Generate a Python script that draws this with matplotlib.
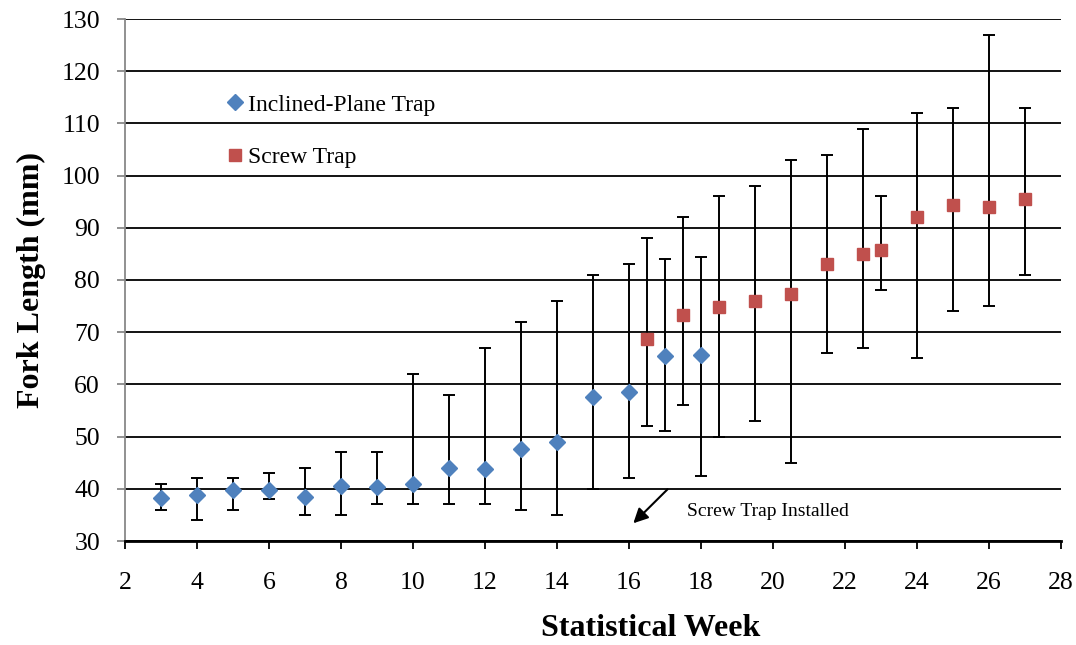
import numpy as np
import matplotlib
matplotlib.use("Agg")
import matplotlib.pyplot as plt
from matplotlib.lines import Line2D

# Fork length by statistical week, with min/max range bars
ipt_week = [3, 4, 5, 6, 7, 8, 9, 10, 11, 12, 13, 14, 15, 16, 17, 18]
ipt_mean = [38.2, 38.8, 39.8, 39.8, 38.5, 40.5, 40.3, 41.0,
            43.9, 43.8, 47.6, 49.0, 57.6, 58.6, 65.5, 65.7]
ipt_min = [36, 34, 36, 38, 35, 35, 37, 37, 37, 37, 36, 35, 40, 42, 51, 42.4]
ipt_max = [41, 42, 42, 43, 44, 47, 47, 62, 58, 67, 72, 76, 81, 83, 84, 84.5]

screw_week = [16.5, 17.5, 18.5, 19.5, 20.5, 21.5, 22.5, 23, 24, 25, 26, 27]
screw_mean = [68.7, 73.2, 74.9, 76.0, 77.3, 83.1, 84.9, 85.8,
              92.1, 94.3, 93.9, 95.6]
screw_min = [52, 56, 50, 53, 45, 66, 67, 78, 65, 74, 75, 81]
screw_max = [88, 92, 96, 98, 103, 104, 109, 96, 112, 113, 127, 113]

blue = "#4F81BD"
red = "#C0504D"

plt.rcParams['font.family'] = "Liberation Serif"

fig = plt.figure(figsize=(10.76, 6.45), dpi=100)
ax = fig.add_axes([125/1076, 1 - 541/645, 936/1076, 522/645])

def yerr(mean, lo, hi):
    mean = np.asarray(mean)
    return [mean - np.asarray(lo), np.asarray(hi) - mean]

ax.errorbar(ipt_week, ipt_mean, yerr=yerr(ipt_mean, ipt_min, ipt_max),
            fmt="D", color=blue, ms=8.5, mec=blue, ecolor="black",
            elinewidth=1.4, capsize=4.3, capthick=1.4, zorder=3)
ax.errorbar(screw_week, screw_mean, yerr=yerr(screw_mean, screw_min, screw_max),
            fmt="s", color=red, ms=9, mec=red, ecolor="black",
            elinewidth=1.4, capsize=4.3, capthick=1.4, zorder=3)

ax.set_xlim(2, 28)
ax.set_ylim(30, 130)
ax.set_xticks(np.arange(2, 29, 2))
ax.set_yticks(np.arange(30, 131, 10))
ax.yaxis.grid(True, color="black", lw=1.3)
ax.set_axisbelow(True)

for s in ["top", "right"]:
    ax.spines[s].set_visible(False)
ax.spines["left"].set_color("#888888")
ax.spines["left"].set_linewidth(1.3)
ax.spines["bottom"].set_linewidth(2.0)

ax.tick_params(axis="x", direction="out", length=6, width=1.3, pad=16,
               labelsize=18.5)
ax.tick_params(axis="y", direction="out", length=6, width=1.3, pad=12,
               color="#888888", labelsize=18.5)

ax.set_xlabel("Statistical Week", fontsize=23, fontweight="bold")
ax.set_ylabel("Fork Length (mm)", fontsize=23, fontweight="bold")
ax.xaxis.set_label_coords((651 - 125) / 936, -0.139)
ax.yaxis.set_label_coords(-0.0844, 0.5)

ax.annotate("", xy=(16.12, 33.4), xytext=(17.07, 39.9),
            arrowprops=dict(arrowstyle="-|>", color="black", lw=1.5,
                            mutation_scale=22, shrinkA=0, shrinkB=0))
ax.text(17.61, 35.6, "Screw Trap Installed", fontsize=14, va="center",
        ha="left")

handles = [Line2D([], [], ls="none", marker="D", ms=8, color=blue),
           Line2D([], [], ls="none", marker="s", ms=9, color=red)]
ax.legend(handles, ["Inclined-Plane Trap", "Screw Trap"],
          loc="upper left", bbox_to_anchor=(0.1, 0.874), frameon=False,
          handlelength=0.6, handletextpad=0.25, labelspacing=1.32,
          fontsize=17, borderaxespad=0)

fig.savefig("out.png", dpi=100)
